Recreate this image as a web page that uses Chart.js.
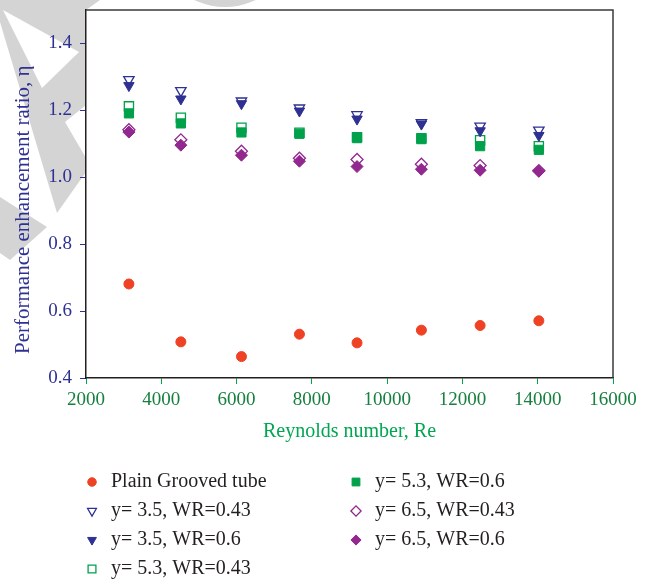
<!DOCTYPE html>
<html>
<head>
<meta charset="utf-8">
<script src="https://cdn.jsdelivr.net/npm/chart.js@4.4.1/dist/chart.umd.min.js"></script>
<style>
  html, body { margin: 0; padding: 0; background: #fff; }
  #wrap { width: 647px; height: 580px; position: relative; }
</style>
</head>
<body>
<div id="wrap"><canvas id="myChart"></canvas></div>
<script>
// Reynolds numbers (x)
var reynolds = [3140, 4520, 6130, 7670, 9200, 10910, 12470, 14030];

// performance enhancement ratio per case
var plainTube = [0.681, 0.508, 0.464, 0.531, 0.505, 0.543, 0.557, 0.571];
var y35wr043 = [1.292, 1.259, 1.228, 1.207, 1.187, 1.163, 1.153, 1.141];
var y35wr06 = [1.274, 1.234, 1.220, 1.198, 1.174, 1.159, 1.139, 1.125];
var y53wr043 = [1.212, 1.178, 1.148, 1.133, 1.120, 1.117, 1.111, 1.093];
var y53wr06 = [1.191, 1.161, 1.134, 1.130, 1.117, 1.114, 1.093, 1.082];
var y65wr043 = [1.142, 1.112, 1.078, 1.057, 1.053, 1.039, 1.035, 1.020];
var y65wr06 = [1.135, 1.096, 1.066, 1.048, 1.032, 1.024, 1.021, 1.018];

var seriesLabels = ['Plain Grooved tube', 'y= 3.5, WR=0.43', 'y= 3.5, WR=0.6',
    'y= 5.3, WR=0.43', 'y= 5.3, WR=0.6', 'y= 6.5, WR=0.43', 'y= 6.5, WR=0.6'];

var xTicks = [2000, 4000, 6000, 8000, 10000, 12000, 14000, 16000];
var yTicks = [0.4, 0.6, 0.8, 1.0, 1.2, 1.4];

var colors = {
    red: '#ef4123',
    blue: '#2e3192',
    green: '#00a14b',
    purple: '#92278f',
    text: '#231f20',
    xtick: '#17803f',
    xtitle: '#00a651',
};

function pts(arr) {
    return arr.map(function(v, i) { return {x: reynolds[i], y: v}; });
}

function ds(label, data, color, style, radius, open, rot, order) {
    return {
        label: label,
        data: pts(data),
        showLine: false,
        pointStyle: style,
        pointRadius: radius,
        pointHoverRadius: radius,
        pointRotation: rot || 0,
        backgroundColor: open ? '#ffffff' : color,
        borderColor: color,
        pointBorderWidth: open ? 1.3 : 1,
        order: order,
    };
}

var datasets = [
    ds(seriesLabels[0], plainTube, colors.red, 'circle', 5, false, 0, 1),
    ds(seriesLabels[1], y35wr043, colors.blue, 'triangle', 6, true, 180, 2),
    ds(seriesLabels[2], y35wr06, colors.blue, 'triangle', 6, false, 180, 1),
    ds(seriesLabels[3], y53wr043, colors.green, 'rect', 6.5, true, 0, 2),
    ds(seriesLabels[4], y53wr06, colors.green, 'rect', 6.5, false, 0, 1),
    ds(seriesLabels[5], y65wr043, colors.purple, 'rectRot', 6, true, 0, 2),
    ds(seriesLabels[6], y65wr06, colors.purple, 'rectRot', 6, false, 0, 1),
];

// gray watermark shapes behind the plot, white plot area
const backdrop = {
    id: 'backdrop',
    beforeDraw: (chart) => {
        const {ctx, chartArea} = chart;
        ctx.save();
        ctx.fillStyle = '#ffffff';
        ctx.fillRect(0, 0, chart.width, chart.height);
        ctx.fillStyle = '#d4d4d4';
        ctx.beginPath();
        [[0,0],[100,0],[86,10],[86,105],[65,122],[86,158],[86,172],[57,213],[0,22]].forEach(function(p, i) {
            if (i == 0) ctx.moveTo(p[0], p[1]); else ctx.lineTo(p[0], p[1]);
        });
        ctx.closePath();
        ctx.fill();
        ctx.beginPath();
        [[0,197],[47,227],[10,260],[0,253]].forEach(function(p, i) {
            if (i == 0) ctx.moveTo(p[0], p[1]); else ctx.lineTo(p[0], p[1]);
        });
        ctx.closePath();
        ctx.fill();
        ctx.beginPath();
        ctx.arc(225, -64, 71, 0, Math.PI * 2);
        ctx.fill();
        ctx.fillStyle = '#ffffff';
        ctx.beginPath();
        ctx.moveTo(3, 10); ctx.lineTo(79, 52); ctx.lineTo(42, 88);
        ctx.closePath();
        ctx.fill();
        ctx.fillRect(chartArea.left, chartArea.top, chartArea.right - chartArea.left, chartArea.bottom - chartArea.top);
        ctx.restore();
    },
    afterDraw: (chart) => {
        const {ctx, chartArea} = chart;
        ctx.save();
        ctx.strokeStyle = '#3a3a3a';
        ctx.lineWidth = 1.5;
        ctx.beginPath();
        ctx.moveTo(chartArea.left, chartArea.top);
        ctx.lineTo(chartArea.right, chartArea.top);
        ctx.lineTo(chartArea.right, chartArea.bottom);
        ctx.stroke();
        ctx.restore();
    }
};

// two-column legend under the chart
const legendCols = {
    id: 'legendCols',
    afterDraw: (chart) => {
        const {ctx} = chart;
        const slots = [[92, 482], [92, 511], [92, 540], [92, 569], [356, 482], [356, 511], [356, 540]];
        ctx.save();
        chart.data.datasets.forEach(function(d, i) {
            const s = slots[i];
            ctx.fillStyle = d.backgroundColor;
            ctx.strokeStyle = d.borderColor;
            ctx.lineWidth = d.pointBorderWidth;
            Chart.helpers.drawPoint(ctx, {
                pointStyle: d.pointStyle,
                radius: d.pointRadius * 0.85,
                rotation: d.pointRotation,
                borderWidth: d.pointBorderWidth
            }, s[0], s[1]);
            ctx.fillStyle = colors.text;
            ctx.font = '20px "Liberation Serif"';
            ctx.textBaseline = 'middle';
            ctx.textAlign = 'left';
            ctx.fillText(d.label, s[0] + 19, s[1]);
        });
        ctx.restore();
    }
};

new Chart(document.getElementById('myChart'), {
    type: 'scatter',
    data: { datasets: datasets },
    options: {
        responsive: true,
        maintainAspectRatio: false,
        animation: false,
        layout: { padding: { top: 10, right: 34, bottom: 132, left: 0 } },
        plugins: {
            legend: { display: false },
            tooltip: { enabled: false },
        },
        scales: {
            x: {
                type: 'linear',
                min: 2000,
                max: 16000,
                afterFit: (scale) => { scale.height = 70; scale.paddingLeft = 0; scale.paddingRight = 0; },
                afterBuildTicks: (scale) => { scale.ticks = xTicks.map(v => ({value: v})); },
                ticks: {
                    color: colors.xtick,
                    font: { family: 'Liberation Serif', size: 19 },
                    padding: 5,
                    maxRotation: 0,
                    callback: (v) => String(v),
                },
                grid: { drawOnChartArea: false, drawTicks: true, tickLength: 6, tickColor: colors.xtitle },
                border: { display: true, color: '#231f20', width: 1.5 },
                title: {
                    display: true,
                    text: 'Reynolds number, Re',
                    color: colors.xtitle,
                    font: { family: 'Liberation Serif', size: 20 },
                    padding: { top: 0, bottom: 4 },
                },
            },
            y: {
                type: 'linear',
                min: 0.4,
                max: 1.5,
                afterFit: (scale) => { scale.width = 86; scale.paddingTop = 0; scale.paddingBottom = 0; },
                afterBuildTicks: (scale) => { scale.ticks = yTicks.map(v => ({value: v})); },
                ticks: {
                    color: colors.blue,
                    font: { family: 'Liberation Serif', size: 19 },
                    padding: 8,
                    callback: (v) => Number(v).toFixed(1),
                },
                grid: { drawOnChartArea: false, drawTicks: true, tickLength: 6, tickColor: colors.blue },
                border: { display: true, color: '#231f20', width: 1.5 },
                title: {
                    display: true,
                    // trailing spaces push the visible text down a little, as in the original
                    text: 'Performance enhancement ratio, η\u00a0\u00a0\u00a0\u00a0\u00a0\u00a0',
                    color: colors.blue,
                    font: { family: 'Liberation Serif', size: 21 },
                    padding: { top: 11, bottom: 0 },
                },
            },
        },
    },
    plugins: [backdrop, legendCols],
});
</script>
</body>
</html>
